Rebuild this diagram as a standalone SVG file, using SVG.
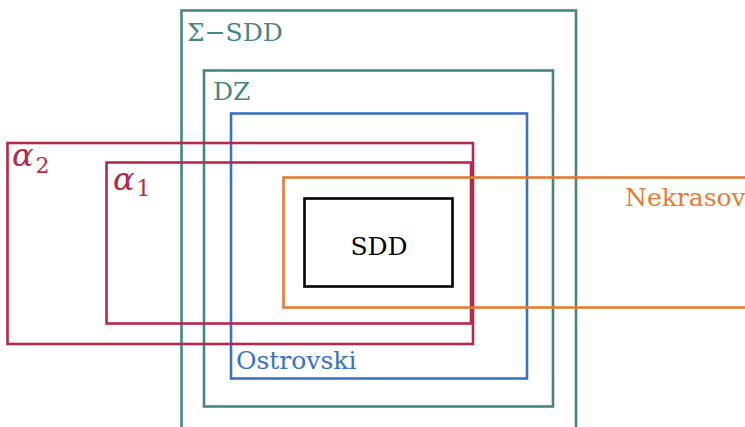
<svg xmlns="http://www.w3.org/2000/svg" width="745" height="427" viewBox="0 0 745 427">
<style>
rect{fill:none;stroke-width:2.6}
text{font-family:"DejaVu Serif","Liberation Serif",serif;font-size:25px}
.teal{stroke:#468682}.tealt{fill:#468682}
.red{stroke:#b32a4a}.redt{fill:#b32a4a;font-style:italic;font-size:32px}
.sub{font-size:22px;font-style:normal}
.blue{stroke:#3a72c4}.bluet{fill:#3a72c4}
.orange{stroke:#e47c35}.oranget{fill:#e47c35}
</style>
<rect width="745" height="427" fill="#fff" stroke="none"/>
<g id="sigma-sdd"><rect class="teal" x="181.5" y="10.5" width="394.5" height="430"/><text class="tealt" x="187" y="41">Σ−SDD</text></g>
<g id="dz"><rect class="teal" x="204" y="70.5" width="349" height="336"/><text class="tealt" x="213" y="100">DZ</text></g>
<g id="ostrovski"><rect class="blue" x="231" y="113.5" width="296" height="265"/><text class="bluet" x="236" y="369">Ostrovski</text></g>
<g id="alpha2"><rect class="red" x="7.5" y="143" width="465.5" height="201"/><text class="redt" x="12" y="166">α<tspan class="sub" dx="2" dy="7">2</tspan></text></g>
<g id="alpha1"><rect class="red" x="106.5" y="162.5" width="364.5" height="161"/><text class="redt" x="113" y="190">α<tspan class="sub" dx="2" dy="6">1</tspan></text></g>
<g id="nekrasov"><rect class="orange" x="283.5" y="177.5" width="470" height="130"/><text class="oranget" x="625" y="206">Nekrasov</text></g>
<g id="sdd"><rect stroke="#000" x="304.5" y="198.5" width="148" height="88"/><text x="379" y="255" text-anchor="middle" fill="#000">SDD</text></g>
</svg>
